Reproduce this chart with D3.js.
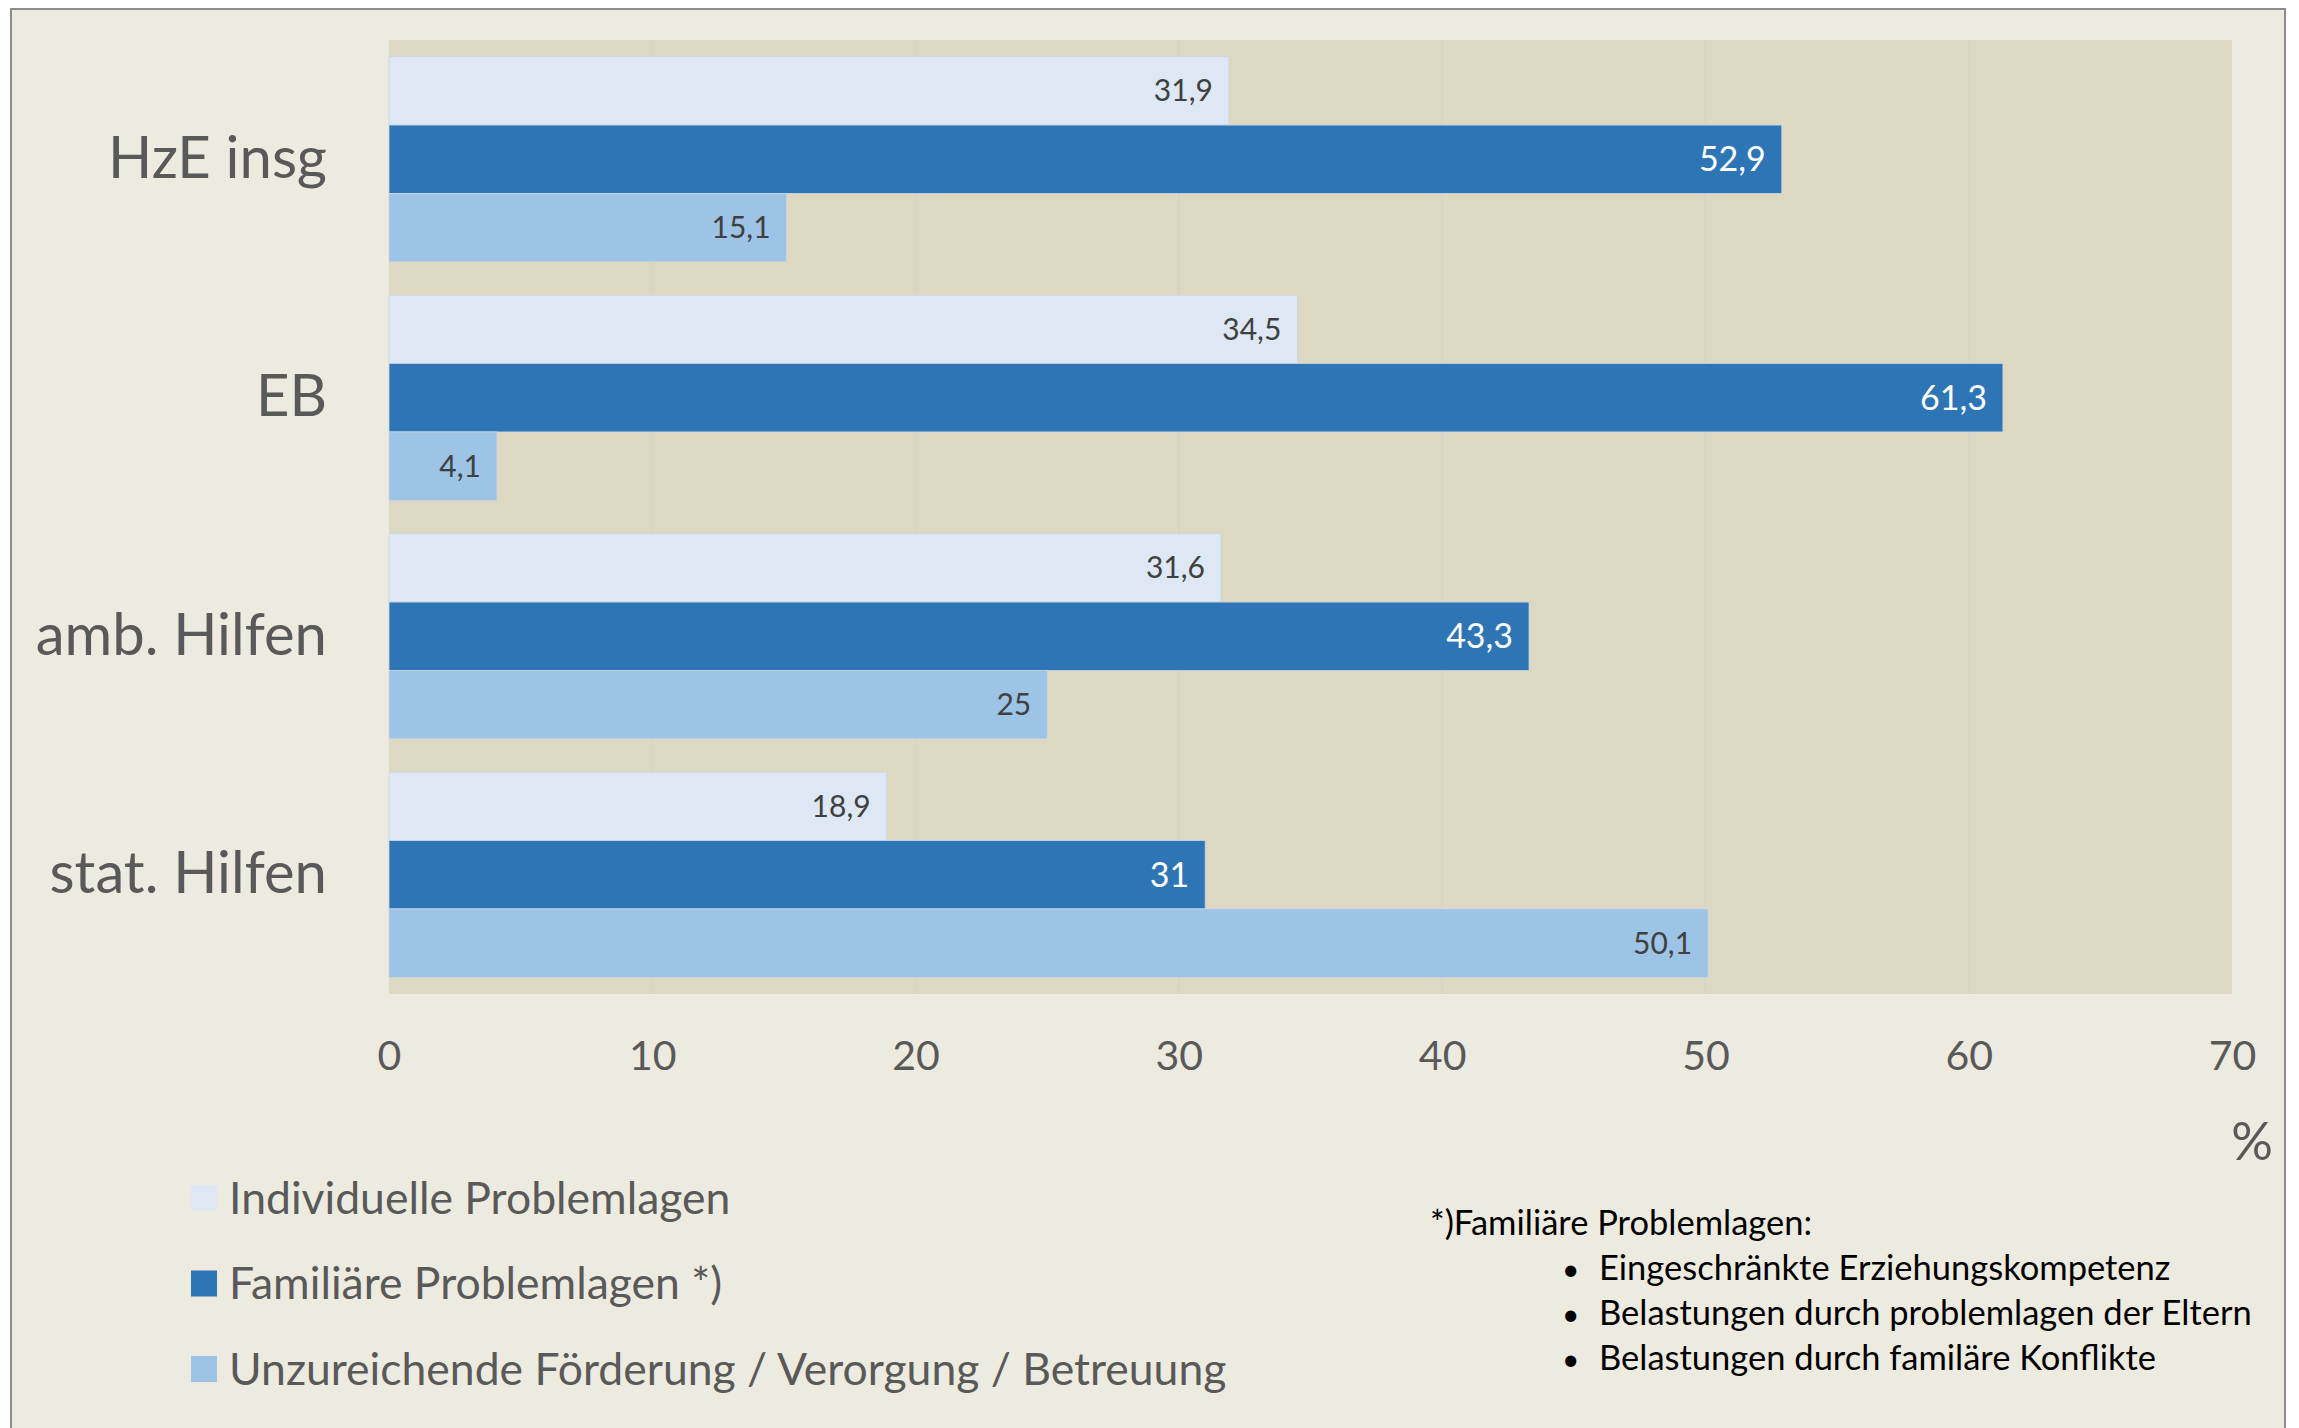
<!DOCTYPE html>
<html>
<head>
<meta charset="utf-8">
<script src="https://cdn.jsdelivr.net/npm/d3@7"></script>
<style>
  body { margin: 0; background: #ffffff; }
  text { font-family: Lato, "Open Sans", sans-serif; }
</style>
</head>
<body>
<div id="chart"></div>
<script>
// categories (top to bottom) and series
const categories = ["HzE insg", "EB", "amb. Hilfen", "stat. Hilfen"];
const seriesNames = [
  "Individuelle Problemlagen",
  "Familiäre Problemlagen *)",
  "Unzureichende Förderung / Verorgung / Betreuung"
];
const individuell = [31.9, 34.5, 31.6, 18.9];
const familiaer = [52.9, 61.3, 43.3, 31];
const foerderung = [15.1, 4.1, 25, 50.1];
const xTicks = [0, 10, 20, 30, 40, 50, 60, 70];
const noteTitle = "*)Familiäre Problemlagen:";
const noteItems = [
  "Eingeschränkte Erziehungskompetenz",
  "Belastungen durch problemlagen der Eltern",
  "Belastungen durch familäre Konflikte"
];

const colors = ["#dde8f4", "#2e75b6", "#9dc3e6"];
const labelColors = ["#404040", "#ffffff", "#404040"];
const labelSizes = [30, 34, 30];

const W = 2299, H = 1428;
const margin = { top: 40, right: 67, bottom: 434, left: 389 };
const width = W - margin.left - margin.right,
  height = H - margin.top - margin.bottom;

const svg = d3.select("#chart").append("svg")
  .attr("width", W)
  .attr("height", H);

// slide background + frame
svg.append("rect")
  .attr("x", 11).attr("y", 9)
  .attr("width", 2274).attr("height", 1440)
  .attr("fill", "#edebe0")
  .attr("stroke", "#8c8c8c")
  .attr("stroke-width", 2);

const g = svg.append("g")
  .attr("transform", `translate(${margin.left},${margin.top})`);

// plot area
g.append("rect")
  .attr("width", width).attr("height", height)
  .attr("fill", "#ddd8c2");

const x = d3.scaleLinear().domain([0, 70]).range([0, width]);
const y = d3.scaleBand().domain(categories).range([0, height])
  .paddingInner(0.14).paddingOuter(0.07);
const ySub = d3.scaleBand().domain(d3.range(3)).range([0, y.bandwidth()]);

// gridlines
g.append("g")
  .selectAll("line")
  .data(xTicks.slice(1, -1))
  .join("line")
  .attr("x1", d => x(d)).attr("x2", d => x(d))
  .attr("y1", 0).attr("y2", height)
  .attr("stroke", "#d6d3c9")
  .attr("stroke-width", 1.5);

const rows = [];
categories.forEach((c, i) => {
  [individuell, familiaer, foerderung].forEach((s, k) => {
    rows.push({ cat: c, k: k, value: s[i] });
  });
});

// bars
g.selectAll("rect.bar")
  .data(rows)
  .join("rect")
  .attr("class", "bar")
  .attr("x", 0)
  .attr("y", d => y(d.cat) + ySub(d.k))
  .attr("width", d => x(d.value))
  .attr("height", ySub.bandwidth())
  .attr("fill", d => colors[d.k])
  .attr("stroke", "#c9d6e3")
  .attr("stroke-width", 0.8);

// value labels
g.selectAll("text.val")
  .data(rows)
  .join("text")
  .attr("class", "val")
  .attr("x", d => x(d.value) - 16)
  .attr("y", d => y(d.cat) + ySub(d.k) + ySub.bandwidth() / 2)
  .attr("dy", "0.35em")
  .attr("text-anchor", "end")
  .attr("fill", d => labelColors[d.k])
  .style("font-size", d => labelSizes[d.k] + "px")
  .text(d => String(d.value).replace(".", ","));

// category axis
const yAxis = g.append("g")
  .call(d3.axisLeft(y).tickSize(0).tickPadding(62));
yAxis.select(".domain").remove();
yAxis.selectAll("text")
  .style("font-size", "58px")
  .style("fill", "#595959")
  .style("font-family", "Lato, 'Open Sans', sans-serif");

// value axis
const xAxis = g.append("g")
  .attr("transform", `translate(0,${height})`)
  .call(d3.axisBottom(x).tickValues(xTicks).tickSize(0).tickPadding(47));
xAxis.select(".domain").remove();
xAxis.selectAll("text")
  .style("font-size", "41px")
  .style("fill", "#595959")
  .style("font-family", "Lato, 'Open Sans', sans-serif");

svg.append("text")
  .attr("x", 2273).attr("y", 1160)
  .attr("text-anchor", "end")
  .attr("fill", "#595959")
  .style("font-size", "52px")
  .text("%");

// legend
const legend = svg.append("g")
  .selectAll("g")
  .data(seriesNames)
  .join("g")
  .attr("transform", (d, i) => `translate(191,${1198 + i * 85.5})`);
legend.append("rect")
  .attr("y", -13).attr("width", 26).attr("height", 26)
  .attr("fill", (d, i) => colors[i]);
legend.append("text")
  .attr("x", 38).attr("dy", "0.35em")
  .attr("fill", "#595959")
  .style("font-size", "44.5px")
  .text(d => d);

// footnote
svg.append("text")
  .attr("x", 1430).attr("y", 1235)
  .attr("fill", "#000")
  .style("font-size", "34.5px")
  .text(noteTitle);
const notes = svg.append("g")
  .selectAll("g")
  .data(noteItems)
  .join("g")
  .attr("transform", (d, i) => `translate(1562,${1280 + i * 45})`);
notes.append("text")
  .attr("fill", "#000")
  .style("font-size", "30px")
  .text("•");
notes.append("text")
  .attr("x", 37)
  .attr("fill", "#000")
  .style("font-size", "34.5px")
  .text(d => d);
</script>
</body>
</html>
